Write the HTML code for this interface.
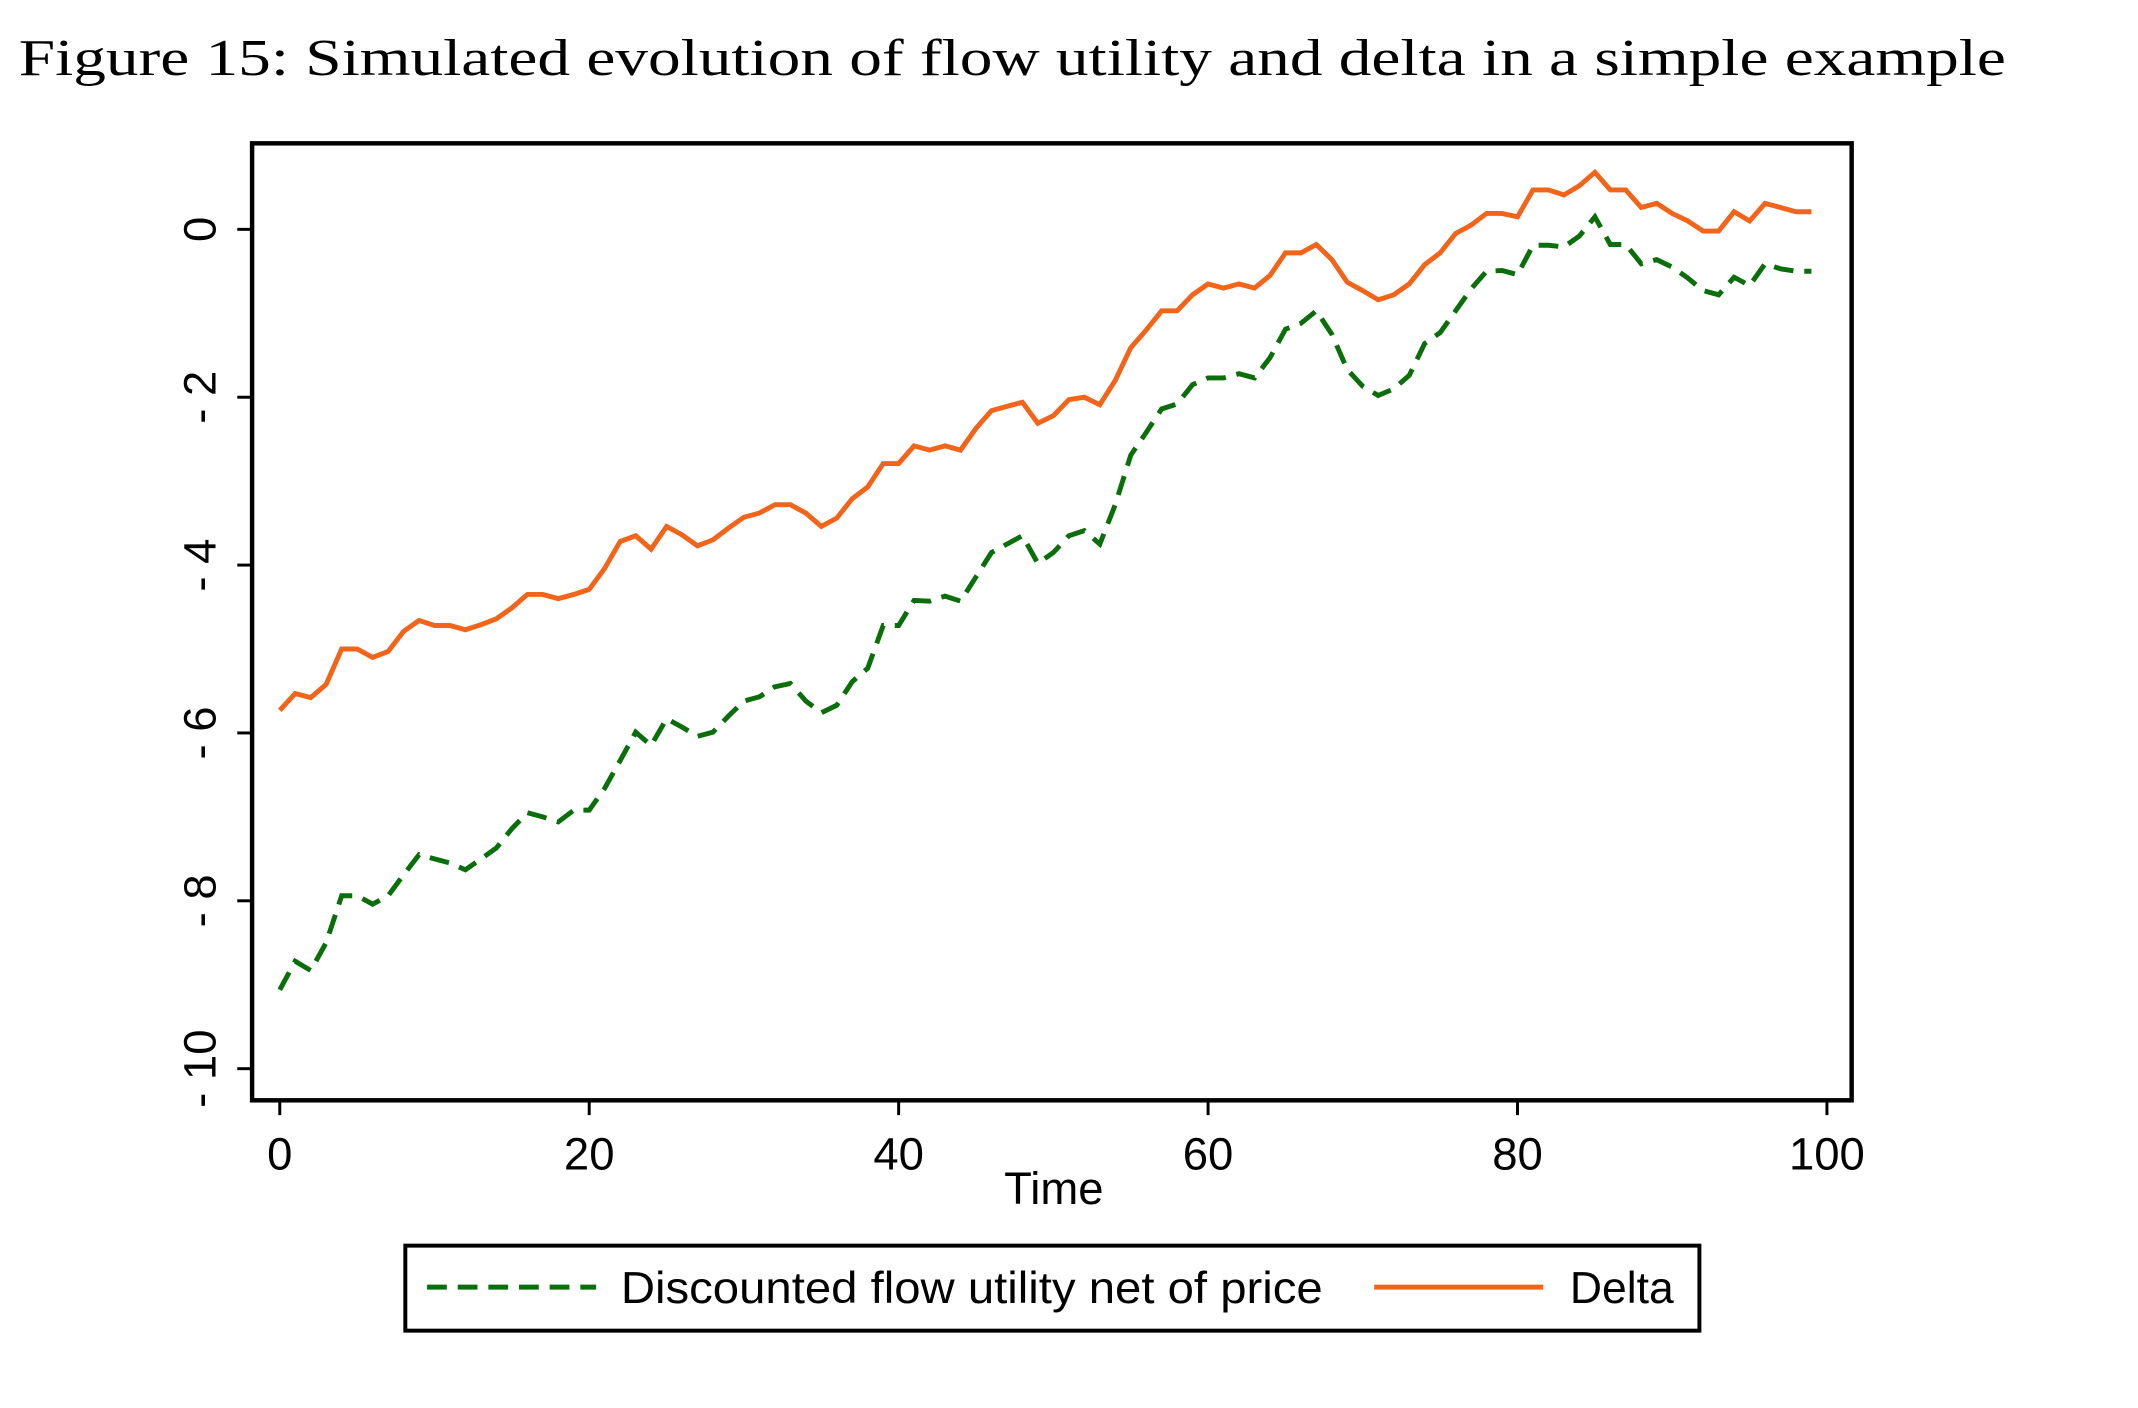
<!DOCTYPE html>
<html><head><meta charset="utf-8"><style>
html,body{margin:0;padding:0;background:#fff;}
svg{display:block;}
</style></head><body>
<svg id="chart" width="2138" height="1408" viewBox="0 0 2138 1408" xmlns="http://www.w3.org/2000/svg">
<rect x="0" y="0" width="2138" height="1408" fill="#fff"/>
<g transform="scale(0.9886)">
<text x="19" y="76" font-family="Liberation Serif, serif" font-size="52" fill="#000" textLength="2010" lengthAdjust="spacingAndGlyphs">Figure 15: Simulated evolution of flow utility and delta in a simple example</text>
<rect x="255" y="145" width="1618" height="968" fill="none" stroke="#000" stroke-width="4.5"/>
<g id="xaxis"></g>
<g id="yaxis"></g>
<text x="1066" y="1218" text-anchor="middle" font-family="Liberation Sans, sans-serif" font-size="46" fill="#000">Time</text>
<g id="series"></g>
<g>
<rect x="410" y="1260" width="1309" height="86" fill="none" stroke="#000" stroke-width="4"/>
<line x1="432" y1="1302" x2="603" y2="1302" stroke="#0a6e0a" stroke-width="5" stroke-dasharray="20,11"/>
<text x="628" y="1318" font-family="Liberation Sans, sans-serif" font-size="45" fill="#000" textLength="710" lengthAdjust="spacingAndGlyphs">Discounted flow utility net of price</text>
<line x1="1390" y1="1302" x2="1561" y2="1302" stroke="#f26419" stroke-width="5"/>
<text x="1588" y="1318" font-family="Liberation Sans, sans-serif" font-size="45" fill="#000" textLength="105" lengthAdjust="spacingAndGlyphs">Delta</text>
</g>
</g>
</svg>
<script>
const times = Array.from({length:100},(_,i)=>i);
const deltaValues = [-5.73,-5.53,-5.58,-5.42,-5.0,-5.0,-5.1,-5.03,-4.79,-4.66,-4.72,-4.72,-4.77,-4.71,-4.64,-4.51,-4.35,-4.35,-4.4,-4.35,-4.29,-4.04,-3.72,-3.65,-3.81,-3.54,-3.64,-3.77,-3.7,-3.56,-3.43,-3.38,-3.28,-3.28,-3.38,-3.54,-3.44,-3.21,-3.07,-2.79,-2.79,-2.58,-2.63,-2.58,-2.63,-2.37,-2.16,-2.11,-2.06,-2.31,-2.22,-2.03,-2.0,-2.09,-1.8,-1.41,-1.2,-0.97,-0.97,-0.78,-0.65,-0.7,-0.65,-0.7,-0.55,-0.28,-0.28,-0.18,-0.36,-0.63,-0.73,-0.84,-0.78,-0.65,-0.42,-0.28,-0.05,0.05,0.19,0.19,0.15,0.47,0.47,0.41,0.52,0.68,0.47,0.47,0.26,0.31,0.19,0.1,-0.02,-0.02,0.21,0.1,0.31,0.26,0.21,0.21];
const flowValues = [-9.06,-8.72,-8.83,-8.5,-7.94,-7.94,-8.04,-7.94,-7.69,-7.45,-7.5,-7.55,-7.63,-7.5,-7.37,-7.14,-6.95,-7.0,-7.06,-6.92,-6.92,-6.66,-6.33,-5.99,-6.15,-5.83,-5.93,-6.04,-5.99,-5.8,-5.62,-5.57,-5.45,-5.41,-5.62,-5.76,-5.67,-5.39,-5.23,-4.72,-4.72,-4.42,-4.43,-4.37,-4.43,-4.14,-3.85,-3.75,-3.65,-3.98,-3.85,-3.65,-3.59,-3.75,-3.28,-2.69,-2.42,-2.14,-2.08,-1.85,-1.77,-1.77,-1.72,-1.77,-1.53,-1.19,-1.12,-0.97,-1.25,-1.67,-1.87,-1.98,-1.9,-1.74,-1.36,-1.23,-0.97,-0.71,-0.5,-0.49,-0.54,-0.19,-0.19,-0.21,-0.08,0.15,-0.18,-0.18,-0.41,-0.36,-0.45,-0.58,-0.73,-0.78,-0.57,-0.67,-0.41,-0.47,-0.5,-0.5];
const xTicks = [0,20,40,60,80,100];
const yTicks = [0,-2,-4,-6,-8,-10];
const NS='http://www.w3.org/2000/svg';
const xs = v => 283 + (v/100)*(1848-283);
const ys = v => 232 + (-v/10)*(1081-232);
function mk(tag, attrs){const e=document.createElementNS(NS,tag);for(const k in attrs)e.setAttribute(k,attrs[k]);return e;}
const xa=document.getElementById('xaxis'), ya=document.getElementById('yaxis'), sg=document.getElementById('series');
xTicks.forEach(t=>{
  const l=mk('line',{x1:xs(t),x2:xs(t),y1:1113,y2:1128,stroke:'#000','stroke-width':3});
  
  
  xa.appendChild(l);
  const tx=mk('text',{x:xs(t),y:1183,'text-anchor':'middle','font-family':'Liberation Sans, sans-serif','font-size':46});
  
  
  tx.textContent=t; xa.appendChild(tx);
});
yTicks.forEach(t=>{
  const l=mk('line',{x1:240,x2:255,y1:ys(t),y2:ys(t),stroke:'#000','stroke-width':3});
  
  
  ya.appendChild(l);
  const tx=mk('text',{x:0,y:0,'text-anchor':'middle','font-family':'Liberation Sans, sans-serif','font-size':46,transform:`translate(218,${ys(t)}) rotate(-90)`});
  
  
  tx.textContent=(t<0?'- '+(-t):t); ya.appendChild(tx);
});
function pts(vals){return vals.map((v,i)=>xs(times[i]).toFixed(1)+','+ys(v).toFixed(1)).join(' ');}
const g=mk('polyline',{points:pts(flowValues),fill:'none',stroke:'#0a6e0a','stroke-width':5,'stroke-dasharray':'20,11'});


sg.appendChild(g);
const d=mk('polyline',{points:pts(deltaValues),fill:'none',stroke:'#f26419','stroke-width':5});


sg.appendChild(d);
</script>
</body></html>
